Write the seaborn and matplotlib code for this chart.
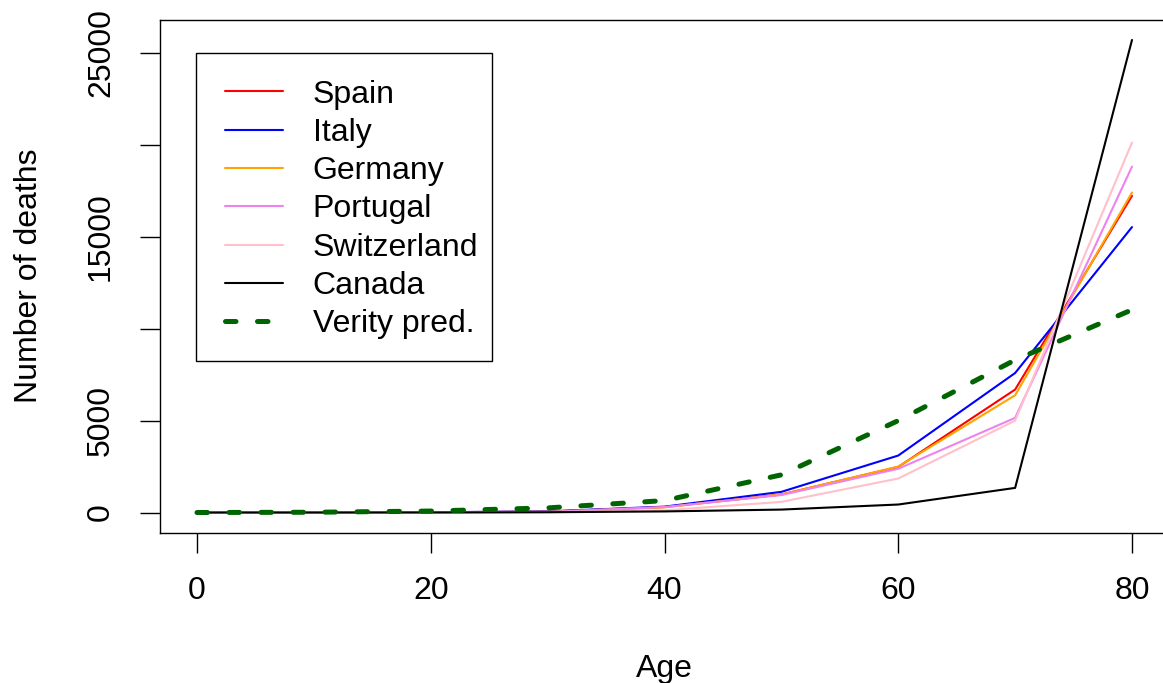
import numpy as np
import pandas as pd
import matplotlib
matplotlib.use("Agg")
import matplotlib.pyplot as plt
import matplotlib.patches as mpatches
import seaborn as sns

# data
ages = [0, 10, 20, 30, 40, 50, 60, 70, 80]
spain = [2, 3, 15, 50, 300, 980, 2480, 6690, 17230]
italy = [2, 1, 15, 60, 320, 1125, 3100, 7590, 15530]
germany = [1, 2, 10, 40, 280, 980, 2500, 6380, 17410]
portugal = [0, 0, 5, 30, 300, 950, 2380, 5150, 18820]
switzerland = [0, 0, 3, 15, 120, 580, 1850, 5000, 20130]
canada = [0, 1, 5, 15, 60, 160, 435, 1340, 25710]
verity = [0, 15, 80, 250, 650, 2050, 5000, 8300, 11030]

countries = ["Spain", "Italy", "Germany", "Portugal", "Switzerland", "Canada"]
colours = ["red", "blue", "orange", "violet", "pink", "black"]

# long format table for seaborn
rows = []
for name, vals in zip(countries, [spain, italy, germany, portugal, switzerland, canada]):
    for a, v in zip(ages, vals):
        rows.append({"age": a, "deaths": v, "country": name})
df = pd.DataFrame(rows)
pred_df = pd.DataFrame({"age": ages, "deaths": verity})

sns.set_style("ticks")
plt.rcParams["font.family"] = ["Liberation Sans", "DejaVu Sans"]
plt.rcParams["text.color"] = "black"
plt.rcParams["xtick.color"] = "black"
plt.rcParams["ytick.color"] = "black"
fs = 23

W, H = 1163, 683
fig = plt.figure(figsize=(W / 100, H / 100), dpi=100)
x0, x1, y0, y1 = 159.6, 1169.4, 20, 532.5
ax = fig.add_axes([x0 / W, 1 - y1 / H, (x1 - x0) / W, (y1 - y0) / H])

sns.lineplot(data=df, x="age", y="deaths", hue="country", hue_order=countries,
             palette=dict(zip(countries, colours)), linewidth=1.5,
             legend=False, ax=ax)
sns.lineplot(data=pred_df, x="age", y="deaths", color="darkgreen",
             linewidth=3.6, dashes=False, ax=ax)

# dashed prediction line
pred_line = ax.get_lines()[-1]
pred_line.set_dashes((2.1, 4.3))
pred_line.set_dash_capstyle("round")

ax.set_xlim(-3.2, 83.2)
ax.set_ylim(-1087, 26796)
ax.set_xticks([0, 20, 40, 60, 80])
ax.set_xticklabels(["0", "20", "40", "60", "80"])
ax.set_yticks([0, 5000, 10000, 15000, 20000, 25000])
ax.set_yticklabels(["0", "5000", "", "15000", "", "25000"])
ax.tick_params(axis="both", labelsize=fs, length=14.4, width=1.0, pad=17,
               color="black", labelcolor="black")
for lab in ax.get_yticklabels():
    lab.set_rotation(90)
    lab.set_va("center")
ax.set_xlabel("")
ax.set_ylabel("")
for sp in ax.spines.values():
    sp.set_visible(True)
    sp.set_linewidth(1.0)
    sp.set_color("black")

# axis titles
fig.text(37 / W, 1 - 276 / H, "Number of deaths", fontsize=fs, rotation=90,
         rotation_mode="anchor", ha="center", va="baseline", color="black")
fig.text(664.5 / W, 1 - 677 / H, "Age", fontsize=fs, ha="center",
         va="baseline", color="black")

# legend box drawn separately, entries placed inside it
box = mpatches.Rectangle((196 / W, 1 - 360.7 / H), (492.3 - 196) / W,
                         (360.7 - 52.7) / H, transform=fig.transFigure,
                         facecolor="white", edgecolor="black", linewidth=1.0,
                         zorder=4, clip_on=False)
ax.add_patch(box)

handles = ax.get_lines()[:6] + [pred_line]
lgnd = ax.legend(handles, countries + ["Verity pred."],
                 loc="upper left",
                 bbox_to_anchor=(225 / W, 1 - 79.5 / H),
                 bbox_transform=fig.transFigure,
                 fontsize=fs, frameon=False, borderaxespad=0, borderpad=0,
                 handlelength=1.82, handletextpad=0.92, labelspacing=0.26)
lgnd.set_zorder(6)
for t in lgnd.get_texts():
    t.set_color("black")

fig.savefig("out.png", dpi=100)
